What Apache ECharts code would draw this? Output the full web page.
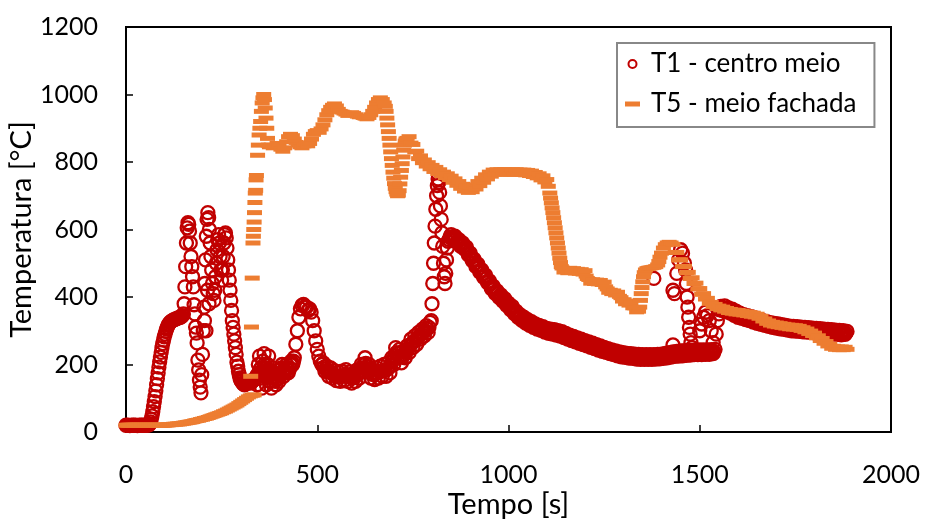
<!DOCTYPE html>
<html>
<head>
<meta charset="utf-8">
<script src="https://cdn.jsdelivr.net/npm/echarts@6/dist/echarts.min.js"></script>
<style>
  html, body { margin: 0; padding: 0; background: #ffffff; }
  #chart { width: 925px; height: 529px; }
</style>
</head>
<body>
<div id="chart"></div>
<script>
// Series labels
const seriesNames = ['T1 - centro meio', 'T5 - meio fachada'];

// Axis titles
const xTitle = 'Tempo [s]';
const yTitle = 'Temperatura [°C]';

// T1 - centro meio, [tempo (s), temperatura (°C)], split by phase
const t1Start = [
  [0,20],[5,20],[10,19],[15,20],[20,20],[25,20],[30,19],[35,20],[40,20],[45,20],[50,20],[55,20],[60,21],
  [62,24],[64,30],[66,38],[68,48],[70,60],[72,75],[74,90],[76,105],[78,122],[80,140],[82,158],[84,175],
  [86,192],[88,208],[90,222],[92,236],[94,250],[96,262],[98,272],[100,282],[102,290],[104,298],[106,305],
  [108,311],[110,316],[112,320],[115,325],[118,328],[121,330],[124,332],[127,333],[130,335],[133,336],
  [136,338],[139,339],[142,340],[145,342],[148,345],[150,350]
];
const t1Peaks = [
  [152,380],[154,430],[156,490],[158,560],[160,605],[162,620],[164,615],[166,595],[168,560],[170,520],
  [172,490],[174,460],[176,430],[178,377],[180,350],[182,311],[184,293],[186,264],[188,213],[190,184],
  [192,154],[194,133],[196,116],
  [198,170],[200,230],[202,300],[204,370],[206,440],[208,510],[210,580],[212,630],[214,650],[216,635],
  [218,600],[205,330],[209,300],[213,420],[217,380],
  [220,560],[222,520],[224,480],[226,440],[228,410],[230,390],[232,420],[234,460],[236,500],[238,540],
  [240,570],[242,585],[244,560],[246,520],[248,480],[250,450],[252,480],[254,520],[256,560],[258,585],
  [260,590],[262,575],[264,545],[266,510],[268,480],[270,450],[272,420],[274,390],[276,360],[278,330],
  [280,310],[282,290],[284,270],[286,250],[288,230],[290,207],[292,195],[294,180],[296,170],[298,160]
];
const t1Middle = [
  [300,155],[302,150],[305,145],[310,140],[315,145],[320,150],[325,145],[330,150],[335,155],[340,160],
  [343,140],[346,200],[349,225],[352,160],[355,130],[358,210],[361,232],[364,180],[367,140],[370,200],
  [373,225],[376,150],[380,130],[384,190],[388,160],[392,140],[396,170],[400,150],[404,185],[408,200],
  [412,165],[416,180],[420,200],[424,175],[428,190],[432,210],[436,200],
  [301,152],[307,142],[312,143],[317,148],[322,147],[327,148],[332,152],[337,157],[341,165],[344,170],
  [347,175],[350,185],[353,190],[356,170],[359,175],[362,200],[365,190],[368,170],[371,180],[374,185],
  [378,170],[382,160],[386,175],[390,150],[394,155],[398,160],[402,170],[406,190],[410,180],[414,175],
  [418,190],[422,188],[426,182],[430,200],[434,205],[438,210],
  [440,220],[444,260],[448,300],[452,340],[456,365],[460,375],[464,378],[468,372],[472,370],[476,360],
  [480,365],[484,355],[488,330],[492,300],[496,270],[500,245],[504,225],[508,210],[512,200],
  [516,205],[520,180],[525,195],[530,165],[535,190],[540,160],[545,182],[550,152],[555,178],[560,150],
  [565,180],[570,152],[575,185],[580,150],[585,178],[590,145],[595,175],[600,150],[605,185],[610,160],
  [615,200],[620,180],[625,220],[630,185],[635,200],[640,160],[645,185],[650,155],[655,190],[660,160],
  [665,195],[670,165],[675,200],[680,165],[685,205],[690,175],[695,220],[700,200],[705,250],[710,220],
  [715,245],[720,205],[725,240],[730,220],[735,255],[740,235],[745,275],[750,250],[755,285],[760,260],
  [765,295],[770,275],[775,305],[780,285],[785,315],[790,295],[795,325],
  [518,192],[522,187],[527,180],[532,178],[537,175],[542,171],[547,167],[552,165],[557,164],[562,165],
  [567,166],[572,168],[577,167],[582,164],[587,162],[592,160],[597,162],[602,167],[607,172],[612,180],
  [617,190],[622,200],[627,203],[632,193],[637,180],[642,172],[647,170],[652,172],[657,175],[662,178],
  [667,180],[672,182],[677,183],[682,185],[687,190],[692,198],[697,210],[702,225],[707,235],[712,232],
  [717,225],[722,222],[727,230],[732,238],[737,245],[742,255],[747,262],[752,268],[757,272],[762,278],
  [767,285],[772,290],[777,295],[782,300],[787,305],[792,310]
];
const t1Flash = [
  [798,330],[800,380],[802,440],[804,500],[806,560],[808,610],[810,660],[812,700],[814,730],[816,750],
  [818,740],[820,710],[822,670],[824,630],[826,590],[828,550],[830,500],[832,460],[834,440],
  [836,470],[838,510],[840,545],[842,565]
];
const t1Decay = [
  [845,570],[850,585],[855,570],[860,580],[865,562],[870,570],[875,550],[880,560],[885,542],[890,548],
  [895,525],[900,530],[905,508],[910,512],[915,490],[920,497],[925,474],[930,480],[935,458],[940,465],
  [945,443],[950,448],[955,425],[960,432],[965,411],[970,418],[975,399],[980,406],[985,388],[990,395],
  [995,375],[1000,382],[1005,363],[1010,372],[1015,351],[1020,358],[1025,340],[1030,348],[1035,331],
  [1040,340],[1045,323],[1050,333],[1055,316],[1060,327],[1065,310],[1070,320],[1075,305],[1080,316],
  [1085,301],[1090,312],[1095,296],[1100,307],[1105,292],[1110,305],[1115,290],[1120,303],[1125,287],
  [1130,300],[1135,284],[1140,297],[1145,280],[1150,292],[1155,275],[1160,287],[1165,271],[1170,283],
  [1175,267],[1180,279],[1185,263],[1190,275],[1195,259],[1200,271],[1205,255],[1210,267],[1215,251],
  [1220,263],[1225,247],[1230,259],[1235,243],[1240,255],[1245,239],[1250,251],[1255,236],[1260,247],
  [1265,232],[1270,243],[1275,229],[1280,240],[1285,226],[1290,237],[1295,223],[1300,235],[1305,221],
  [1310,233],[1315,219],[1320,232],[1325,218],[1330,231],[1335,216],[1340,230],[1345,215],[1350,229],
  [1355,215],[1360,229],[1365,215],[1370,229],[1375,215],[1380,229],[1385,216],[1390,230],[1395,217],
  [1400,231],[1405,218],[1410,233],[1415,220],[1420,235],[1425,222],[1430,237],[1435,224],[1440,239],
  [1445,225],[1450,240],[1455,226],[1460,241],[1465,227],[1470,242],[1475,228],[1480,242],[1485,229],
  [1490,243],[1495,229],[1500,243],[1505,229],[1510,243],[1515,230],[1520,243],[1525,230],[1530,244],
  [1535,232],[1540,245],
  [847,577],[852,578],[857,575],[862,571],[867,566],[872,560],[877,555],[882,551],[887,545],[892,537],
  [897,527],[902,519],[907,510],[912,501],[917,493],[922,486],[927,477],[932,469],[937,461],[942,454],
  [947,445],[952,437],[957,428],[962,422],[967,414],[972,409],[977,402],[982,397],[987,391],[992,385],
  [997,378],[1002,372],[1007,367],[1012,361],[1017,354],[1022,349],[1027,344],[1032,339],[1037,335],
  [1042,331],[1047,328],[1052,324],[1057,321],[1062,318],[1067,315],[1072,312],[1077,310],[1082,308],
  [1087,306],[1092,304],[1097,301],[1102,299],[1107,298],[1112,297],[1117,296],[1122,295],[1127,293],
  [1132,292],[1137,290],[1142,288],[1147,286],[1152,283],[1157,281],[1162,279],[1167,277],[1172,275],
  [1177,273],[1182,271],[1187,269],[1192,267],[1197,265],[1202,263],[1207,261],[1212,259],[1217,257],
  [1222,255],[1227,253],[1232,251],[1237,249],[1242,247],[1247,245],[1252,243],[1257,241],[1262,239],
  [1267,237],[1272,236],[1277,234],[1282,233],[1287,231],[1292,230],[1297,229],[1302,228],[1307,227],
  [1312,226],[1317,225],[1322,225],[1327,224],[1332,223],[1337,223],[1342,222],[1347,222],[1352,222],
  [1357,222],[1362,222],[1367,222],[1372,222],[1377,222],[1382,222],[1387,223],[1392,223],[1397,224],
  [1402,224],[1407,225],[1412,226],[1417,227],[1422,228],[1427,229],[1432,230],[1437,231],[1442,232],
  [1447,233],[1452,233],[1457,234],[1462,234],[1467,234],[1472,235],[1477,235],[1482,235],[1487,236],
  [1492,236],[1497,236],[1502,236],[1507,236],[1512,236],[1517,236],[1522,237],[1527,237],[1532,238],
  [1537,238]
];
const t1Bursts = [
  [1380,455],[1430,420],[1434,410],[1440,470],[1445,510],[1450,540],[1455,530],[1460,500],[1463,480],
  [1465,440],[1467,400],[1469,370],[1471,340],[1473,310],[1475,290],[1477,265],[1480,250],[1430,258],
  [1500,300],[1505,320],[1510,340],[1515,355],[1520,345],[1525,330],[1530,300],[1535,265]
];
const t1Tail = [
  [1543,290],[1546,330],[1550,350],[1555,372],[1560,360],[1565,374],[1570,356],[1575,368],[1580,352],
  [1585,364],[1590,346],[1595,358],[1600,340],[1605,352],[1610,337],[1615,348],[1620,333],[1625,345],
  [1630,330],[1635,342],[1640,326],[1645,338],[1650,322],[1655,334],[1660,319],[1665,330],[1670,316],
  [1675,327],[1680,313],[1685,324],[1690,310],[1695,322],[1700,308],[1705,320],[1710,306],[1715,318],
  [1720,304],[1725,316],[1730,302],[1735,314],[1740,300],[1745,313],[1750,299],[1755,312],[1760,298],
  [1765,311],[1770,297],[1775,310],[1780,296],[1785,309],[1790,295],[1795,308],[1800,294],[1805,307],
  [1810,293],[1815,306],[1820,292],[1825,305],[1830,291],[1835,304],[1840,290],[1845,303],[1850,290],
  [1855,302],[1860,289],[1865,301],[1870,288],[1875,300],[1880,289],[1885,298],
  [1552,362],[1557,366],[1562,367],[1567,365],[1572,362],[1577,360],[1582,358],[1587,355],[1592,352],
  [1597,349],[1602,346],[1607,344],[1612,342],[1617,340],[1622,339],[1627,337],[1632,336],[1637,334],
  [1642,332],[1647,330],[1652,328],[1657,326],[1662,324],[1667,323],[1672,321],[1677,320],[1682,318],
  [1687,317],[1692,316],[1697,315],[1702,314],[1707,313],[1712,312],[1717,311],[1722,310],[1727,309],
  [1732,308],[1737,307],[1742,306],[1747,306],[1752,305],[1757,305],[1762,304],[1767,304],[1772,303],
  [1777,303],[1782,302],[1787,302],[1792,301],[1797,301],[1802,300],[1807,300],[1812,299],[1817,299],
  [1822,298],[1827,298],[1832,297],[1837,297],[1842,296],[1847,296],[1852,296],[1857,295],[1862,295],
  [1867,294],[1872,294],[1877,294],[1882,293]
];

// T5 - meio fachada, [tempo (s), temperatura (°C)], split by phase
const t5Start = [
  [0,20],[5,20],[10,20],[15,20],[20,20],[25,20],[30,20],[35,20],[40,20],[45,20],[50,20],[55,20],[60,20],
  [65,20],[70,20],[75,20],[80,20],[85,20],[90,20],[95,20],
  [100,20],[105,21],[110,21],[115,22],[120,22],[125,23],[130,23],[135,24],[140,24],[145,25],[150,26],
  [155,27],[160,28],[165,29],[170,30],[175,31],[180,33],[185,34],[190,35],[195,37],[200,38],[205,40],
  [210,41],[215,43],[220,45],[225,47],[230,49],[235,51],[240,53],[245,55],[250,57],[255,60],[260,62],
  [265,65],[270,68],[275,71],[280,74],[285,77],[290,80],[295,84],[300,88],[305,92],[310,96],[315,100],
  [320,104],[325,107],[330,109],[335,110]
];
const t5Hot = [
  [326,165],[328,311],[330,456],[332,560],[333,580],[334,600],[335,622],[336,650],[337,680],[338,708],
  [339,716],[340,747],[341,760],[344,820],[346,850],[348,880],[350,900],[352,920],[354,950],[356,975],
  [358,990],[360,1000],[362,985],[364,960],[366,930],[368,900],[370,870],[372,850],
  [375,845],[380,850],[385,842],[390,848],[395,855],[400,850],[405,838],[410,832],[415,842],[420,860],
  [425,875],[430,882],[435,878],[440,868],[445,858],[450,850],[455,845],[460,842],[465,848],[470,852],
  [475,848],[480,855],[485,868],[490,882],[495,890],[500,893],[505,888],[510,898],[515,910],[520,925],
  [525,940],[530,952],[535,962],[540,968],[545,972],[550,966],[555,956],[560,950],[565,948],[570,945],
  [575,942],[580,938],[585,942],[590,946],[595,944],[600,940],[605,936],[610,934],[615,935],[620,932],
  [625,930],[630,928],[635,932],[640,940],[645,950],[650,962],[655,975],[660,985],[665,990],[670,985],
  [675,975],[678,965],
  [680,950],[682,930],[684,910],[686,890],[688,870],[690,850],[692,830],[694,810],[696,790],[698,770],
  [700,752],[702,736],[704,722],[706,712],[708,705],[710,700],[712,702],
  [714,715],[716,735],[718,755],[720,775],[722,795],[724,815],[726,835],[728,850],[730,862],[732,868],
  [735,870]
];
const t5Plateau = [
  [740,875],[745,856],[750,852],[755,830],[760,832],[765,810],[770,818],[775,798],[780,806],
  [785,788],[790,798],[795,780],[800,790],[805,772],[810,784],[815,766],[820,777],[825,760],[830,770],
  [835,754],[840,765],[845,748],[850,758],[855,740],[860,750],[865,731],[870,742],[875,722],[880,734],
  [885,714],[890,728],[895,710],[900,726],[905,712],[910,732],[915,720],[920,742],[925,730],[930,752],
  [935,740],[940,762],[945,750],[950,770],[955,758],[960,776],[965,764],[970,777],[975,765],[980,777],
  [985,764],[990,777],[995,764],[1000,776],[1005,764],[1010,777],[1015,764],[1020,777],[1025,764],
  [1030,776],[1035,763],[1040,776],[1045,762],[1050,775],[1055,760],[1060,773],[1065,757],[1070,769],
  [1075,753],[1080,765],[1085,747],[1090,759],[1095,741],[1100,748]
];
const t5Cooling = [
  [1104,728],[1108,708],[1110,693],[1112,679],[1114,664],[1116,650],[1118,635],[1120,620],[1122,605],
  [1124,590],[1126,575],[1128,560],[1130,545],[1132,530],[1134,515],[1136,502],[1138,490],
  [1140,486],[1145,474],[1150,484],[1155,472],[1160,485],[1165,473],[1170,484],[1175,471],[1180,482],
  [1185,470],[1190,481],[1195,468],[1200,478],[1203,462],[1206,455],[1210,452],[1215,441],[1220,451],
  [1225,440],[1230,450],[1235,439],[1240,449],[1245,437],[1250,444],[1254,430],[1258,424],[1262,414],
  [1266,420],[1270,410],[1275,418],[1280,406],[1285,414],[1290,402],[1294,398],[1298,388],[1302,392],
  [1306,380],[1310,388],[1315,376],[1320,381],[1325,368],[1330,368],[1335,356],[1340,358],
  [1343,370],[1345,390],[1347,410],[1349,428],[1351,445],[1353,460],[1355,472],[1358,480],[1362,484],
  [1366,485],[1370,486],[1375,487],[1380,488],[1385,490],[1390,495],[1393,505],[1396,518],[1400,530],
  [1405,545],[1410,555],[1415,560],[1420,562],[1425,560]
];
const t5Tail = [
  [1430,556],[1436,532],[1440,532],[1445,510],[1450,510],[1455,490],[1460,491],[1465,472],[1470,473],
  [1475,455],[1480,457],[1485,440],[1490,441],[1495,424],[1500,425],[1505,408],[1510,410],[1515,394],
  [1520,396],[1525,381],[1530,384],[1535,372],[1540,378],[1545,366],[1550,373],[1555,362],[1560,370],
  [1565,358],[1570,366],[1575,354],[1580,363],[1585,352],[1590,361],[1595,350],[1600,360],[1605,349],
  [1610,358],[1615,347],[1620,356],[1625,345],[1630,354],[1635,343],[1640,352],[1645,341],[1650,349],
  [1655,337],[1660,343],[1665,329],[1670,335],[1675,322],[1680,329],[1685,317],[1690,325],[1695,314],
  [1700,323],[1705,312],[1710,321],[1715,310],[1720,319],[1725,308],[1730,317],[1735,306],[1740,316],
  [1745,305],[1750,315],[1755,304],[1760,313],[1765,301],[1770,309],[1775,297],[1780,305],[1785,292],
  [1790,299],[1795,286],[1800,293],[1805,279],[1810,285],[1815,271],[1820,277],[1825,263],[1830,268],
  [1835,255],[1840,260],[1845,248],[1850,254],[1855,245],[1860,252],[1865,244],[1870,252],[1875,244],
  [1880,251],[1885,245]
];

const t1Data = [].concat(t1Start, t1Peaks, t1Middle, t1Flash, t1Decay, t1Bursts, t1Tail);
const t5Data = [].concat(t5Start, t5Hot, t5Plateau, t5Cooling, t5Tail);

const RED = '#C00000';
const ORANGE = '#ED7D31';
const FONT = 'Lato';

const chart = echarts.init(document.getElementById('chart'), null, { renderer: 'canvas' });

const plainNumber = (v) => String(v);

chart.setOption({
  animation: false,
  backgroundColor: '#ffffff',
  textStyle: { fontFamily: FONT },
  grid: {
    left: 126, right: 34, top: 27, bottom: 97,
    containLabel: false,
    outerBoundsMode: 'none',
    show: true, borderColor: '#000000', borderWidth: 2, backgroundColor: 'transparent'
  },
  legend: {
    orient: 'vertical',
    left: 617, top: 43,
    padding: [8, 18, 10, 8],
    itemGap: 14,
    itemWidth: 15, itemHeight: 8,
    borderColor: '#888888', borderWidth: 2,
    textStyle: { fontFamily: FONT, fontSize: 26, color: '#000000', lineHeight: 26, padding: [0, 0, 0, 6] },
    data: [
      { name: seriesNames[0], icon: 'circle' },
      { name: seriesNames[1], icon: 'path://M0 0H15V5H0Z' }
    ]
  },
  xAxis: {
    type: 'value', min: 0, max: 2000, interval: 500,
    name: xTitle, nameLocation: 'middle', nameGap: 58, nameMoveOverlap: false,
    nameTextStyle: { fontFamily: FONT, fontSize: 29, color: '#000000' },
    axisLine: { show: true, lineStyle: { color: '#000000', width: 2 } },
    axisTick: { show: true, inside: true, length: 7, lineStyle: { color: '#000000', width: 1.5 } },
    axisLabel: { fontFamily: FONT, fontSize: 25, color: '#000000', margin: 30, formatter: plainNumber },
    splitLine: { show: false }
  },
  yAxis: {
    type: 'value', min: 0, max: 1200, interval: 200,
    name: yTitle, nameLocation: 'middle', nameGap: 90, nameRotate: 90, nameMoveOverlap: false,
    nameTextStyle: { fontFamily: FONT, fontSize: 29, color: '#000000' },
    axisLine: { show: true, lineStyle: { color: '#000000', width: 2 } },
    axisTick: { show: true, inside: true, length: 7, lineStyle: { color: '#000000', width: 1.5 } },
    axisLabel: { fontFamily: FONT, fontSize: 25, color: '#000000', margin: 28, formatter: plainNumber },
    splitLine: { show: false }
  },
  series: [
    {
      name: seriesNames[0],
      type: 'scatter',
      data: t1Data,
      symbol: 'circle',
      symbolSize: 13,
      clip: false,
      itemStyle: { color: 'rgba(192,0,0,0)', borderColor: RED, borderWidth: 2.3, opacity: 1 },
      emphasis: { disabled: true }
    },
    {
      name: seriesNames[1],
      type: 'scatter',
      data: t5Data,
      symbol: 'rect',
      symbolSize: [15, 5],
      clip: false,
      itemStyle: { color: ORANGE, opacity: 1 },
      emphasis: { disabled: true }
    }
  ]
});
</script>
</body>
</html>
